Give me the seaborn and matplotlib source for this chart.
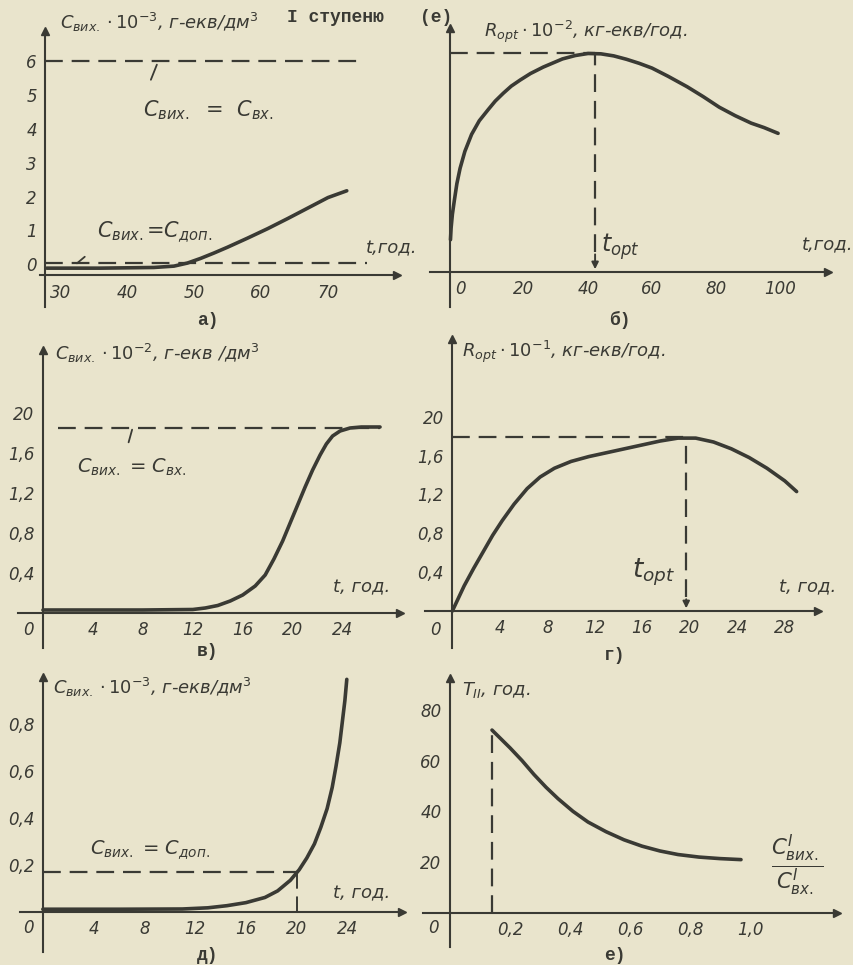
import numpy as np
import matplotlib
matplotlib.use("Agg")
import matplotlib.pyplot as plt
import seaborn as sns

sns.set_theme(style="white")
plt.rcParams["font.family"] = ["DejaVu Sans"]
plt.rcParams["mathtext.fontset"] = "dejavusans"

BG = "#e9e4cc"
INK = "#3a3a34"
W, H = 854, 965
DASH = (0, (8, 4))

# --- a) outlet concentration vs time, stage I
a_t = [28, 36, 44, 47, 49, 51, 53, 55, 58, 61, 64, 67, 70, 72.8]
a_c = [-0.12, -0.12, -0.1, -0.06, 0.03, 0.17, 0.33, 0.5, 0.77, 1.05, 1.35, 1.66, 1.97, 2.17]
a_c_in, a_c_dop = 6.0, 0.03
a_xticks = [30, 40, 50, 60, 70]
a_yticks = [0, 1, 2, 3, 4, 5, 6]

# --- б) R_opt vs time
b_t = [-3.0, -2.8, -2.4, -1.8, -1.0, 0, 1.5, 3.6, 6, 8.8, 11, 13.5, 16, 18.8, 22, 26,
       32, 36, 40, 44, 48, 52, 56, 60, 65, 71, 76, 81, 86, 91, 95, 99.4]
b_r = [0.95, 1.3, 1.7, 2.1, 2.6, 3.05, 3.55, 4.05, 4.45, 4.78, 5.03, 5.26, 5.47, 5.65, 5.84, 6.03,
       6.27, 6.37, 6.43, 6.42, 6.36, 6.26, 6.14, 6.0, 5.76, 5.45, 5.16, 4.85, 4.6, 4.38, 4.25, 4.08]
b_topt, b_rmax = 42.2, 6.45
b_xticks = [0, 20, 40, 60, 80, 100]
b_yticks = [1, 2, 3, 4, 5, 6]

# --- в) outlet concentration vs time
c_t = [0, 4, 8, 12, 13, 14, 15, 16, 17, 17.8, 18.5, 19.2, 19.8, 20.4, 21, 21.6, 22.2,
       22.7, 23.2, 23.8, 24.6, 25.5, 27]
c_c = [0.03, 0.03, 0.03, 0.035, 0.05, 0.075, 0.12, 0.18, 0.27, 0.38, 0.54, 0.72, 0.9, 1.08,
       1.26, 1.43, 1.58, 1.69, 1.77, 1.82, 1.85, 1.86, 1.86]
c_c_in = 1.85
c_xticks = [4, 8, 12, 16, 20, 24]
c_yticks = [0.4, 0.8, 1.2, 1.6, 2.0]
c_ylabels = ["0,4", "0,8", "1,2", "1,6", "20"]

# --- г) R_opt vs time
d_t = [0, 0.5, 1, 1.8, 2.6, 3.4, 4.2, 5.2, 6.3, 7.4, 8.6, 10, 11.5, 13, 14.5, 16, 17.5,
       19, 20.5, 22, 23.5, 25, 26.5, 28, 29]
d_r = [0.0, 0.13, 0.26, 0.44, 0.61, 0.78, 0.93, 1.1, 1.26, 1.38, 1.47, 1.54, 1.59, 1.63,
       1.67, 1.71, 1.75, 1.78, 1.78, 1.74, 1.67, 1.58, 1.47, 1.34, 1.23]
d_topt, d_rmax = 19.7, 1.79
d_xticks = [4, 8, 12, 16, 20, 24, 28]
d_yticks = [0.4, 0.8, 1.2, 1.6, 2.0]
d_ylabels = ["0,4", "0,8", "1,2", "1,6", "20"]

# --- д) outlet concentration vs time
e_t = [0, 6, 11, 13, 14.5, 16, 17.5, 18.5, 19.5, 20.2, 20.8, 21.4, 21.9, 22.4, 22.8,
       23.1, 23.4, 23.6, 23.8, 23.95]
e_c = [0.012, 0.012, 0.013, 0.018, 0.027, 0.04, 0.062, 0.09, 0.135, 0.18, 0.23, 0.29,
       0.36, 0.44, 0.53, 0.62, 0.72, 0.81, 0.9, 0.99]
e_c_dop, e_t_dop = 0.17, 20
e_xticks = [4, 8, 12, 16, 20, 24]
e_yticks = [0.2, 0.4, 0.6, 0.8]
e_ylabels = ["0,2", "0,4", "0,6", "0,8"]

# --- е) T_II vs concentration ratio
f_x = [0.14, 0.17, 0.2, 0.24, 0.28, 0.32, 0.36, 0.41, 0.46, 0.52, 0.58, 0.64, 0.7, 0.76,
       0.83, 0.9, 0.97]
f_T = [72, 68.5, 65, 60, 54.5, 49.5, 45, 40, 35.8, 32, 28.8, 26.3, 24.4, 23, 22, 21.4, 21]
f_xticks = [0.2, 0.4, 0.6, 0.8, 1.0]
f_xlabels = ["0,2", "0,4", "0,6", "0,8", "1,0"]
f_yticks = [20, 40, 60, 80]

fig = plt.figure(figsize=(W / 100, H / 100), dpi=100, facecolor=BG)


def txt(x, y, s, size=13, ha="left", **kw):
    fig.text(x / W, 1 - y / H, s, fontsize=size, ha=ha, va="center",
             color=INK, **kw)


def panel(box, xlim, ylim, x0, y0, xticks, yticks, xlabels=None, ylabels=None):
    l, t, r, b = box
    ax = fig.add_axes([l / W, 1 - b / H, (r - l) / W, (b - t) / H])
    ax.set_facecolor("none")
    ax.set_xlim(xlim)
    ax.set_ylim(ylim)
    for s in ["top", "right"]:
        ax.spines[s].set_visible(False)
    ax.spines["left"].set_position(("data", x0))
    ax.spines["bottom"].set_position(("data", y0))
    for s in ["left", "bottom"]:
        ax.spines[s].set_color(INK)
        ax.spines[s].set_linewidth(1.5)
    ax.set_xticks(xticks)
    ax.set_yticks(yticks)
    ax.set_xticklabels(xlabels if xlabels is not None else [str(v) for v in xticks])
    if ylabels is None:
        ylabels = [str(v) for v in yticks]
    ax.set_yticklabels(ylabels)
    ax.tick_params(direction="inout", length=6, width=1.3, color=INK,
                   labelcolor=INK, labelsize=12, pad=3)
    for lab in ax.get_xticklabels() + ax.get_yticklabels():
        lab.set_fontstyle("italic")
    ax.plot(1, y0, ">", color=INK, ms=6, transform=ax.get_yaxis_transform(), clip_on=False)
    ax.plot(x0, 1, "^", color=INK, ms=6, transform=ax.get_xaxis_transform(), clip_on=False)
    ax.grid(False)
    return ax


def curve(ax, x, y):
    sns.lineplot(x=x, y=y, ax=ax, color=INK, lw=2.6, sort=False,
                 estimator=None, solid_capstyle="round", solid_joinstyle="round")


def topt_arrow(ax, x, y, head):
    ax.vlines(x, head, y, color=INK, lw=1.6, linestyles=DASH)
    ax.annotate("", xy=(x, 0), xytext=(x, head),
                arrowprops=dict(arrowstyle="-|>", color=INK, lw=1.4,
                                mutation_scale=10))


# a)
ax = panel((40, 31, 397, 307), (27.0, 80.3), (-1.27, 6.9), 27.8, -0.33,
           a_xticks, a_yticks)
curve(ax, a_t, a_c)
ax.hlines(a_c_in, 27.8, 74.5, color=INK, lw=1.6, linestyles=DASH)
ax.hlines(a_c_dop, 27.8, 75.8, color=INK, lw=1.6, linestyles=DASH)
ax.annotate("", xy=(44.6, 5.98), xytext=(43.4, 5.38),
            arrowprops=dict(arrowstyle="-", color=INK, lw=1.3))
ax.annotate("", xy=(34.0, 0.27), xytext=(32.2, -0.03),
            arrowprops=dict(arrowstyle="-", color=INK, lw=1.3))
txt(60, 22, r"$C_{вих.}\cdot10^{-3}$, г-екв/дм$^3$", 13, fontstyle="italic")
txt(287, 17, "I ступеню", 13, family="Liberation Mono", weight="bold")
txt(420, 17, "(е)", 13, family="Liberation Mono", weight="bold")
txt(143, 110, r"$C_{вих.}$  =  $C_{вх.}$", 15)
txt(97, 232, r"$C_{вих.}$=$C_{доп.}$", 15)
txt(366, 248, "t,год.", 13, fontstyle="italic")
txt(208, 320, "а)", 13, ha="center", family="Liberation Mono", weight="bold")

# б)
ax = panel((430, 28, 828, 307), (-9.4, 115), (-1.03, 7.18), -3.1, 0,
           b_xticks, b_yticks, ylabels=[""] * len(b_yticks))
ax.set_xticks(np.arange(10, 111, 10), minor=True)
ax.tick_params(which="minor", direction="inout", length=5, width=1.2, color=INK)
curve(ax, b_t, b_r)
ax.hlines(b_rmax, -3.1, b_topt, color=INK, lw=1.6, linestyles=DASH)
topt_arrow(ax, b_topt, b_rmax, 0.6)
txt(484, 32, r"$R_{opt}\cdot10^{-2}$, кг-екв/год.", 13, fontstyle="italic")
txt(601, 247, r"$t_{opt}$", 17)
txt(802, 245, "t,год.", 13, fontstyle="italic")
txt(620, 320, "б)", 13, ha="center", family="Liberation Mono", weight="bold")

# в)
ax = panel((18, 350, 400, 648), (-2, 28.6), (-0.35, 2.63), 0, 0,
           c_xticks, c_yticks, ylabels=c_ylabels)
curve(ax, c_t, c_c)
ax.hlines(c_c_in, 1.2, 27, color=INK, lw=1.6, linestyles=DASH)
ax.annotate("", xy=(7.2, 1.86), xytext=(6.8, 1.68),
            arrowprops=dict(arrowstyle="-", color=INK, lw=1.3))
txt(55, 353, r"$C_{вих.}\cdot10^{-2}$, г-екв /дм$^3$", 13, fontstyle="italic")
txt(77, 467, r"$C_{вих.}$ = $C_{вх.}$", 14)
txt(333, 587, "t, год.", 13, fontstyle="italic")
txt(28, 630, "0", 12, ha="center", fontstyle="italic")
txt(208, 652, "в)", 13, ha="center", family="Liberation Mono", weight="bold")

# г)
ax = panel((425, 339, 818, 648), (-2.3, 30.8), (-0.38, 2.8), 0, 0,
           d_xticks, d_yticks, ylabels=d_ylabels)
curve(ax, d_t, d_r)
ax.hlines(d_rmax, 0, d_topt, color=INK, lw=1.6, linestyles=DASH)
topt_arrow(ax, d_topt, d_rmax, 0.15)
txt(462, 352, r"$R_{opt}\cdot10^{-1}$, кг-екв/год.", 13, fontstyle="italic")
txt(632, 572, r"$t_{opt}$", 19)
txt(779, 587, "t, год.", 13, fontstyle="italic")
txt(435, 630, "0", 12, ha="center", fontstyle="italic")
txt(615, 655, "г)", 13, ha="center", family="Liberation Mono", weight="bold")

# д)
ax = panel((20, 677, 402, 952), (-1.8, 28.3), (-0.17, 1.0), 0, 0,
           e_xticks, e_yticks, ylabels=e_ylabels)
curve(ax, e_t, e_c)
ax.hlines(e_c_dop, 0, e_t_dop, color=INK, lw=1.6, linestyles=DASH)
ax.vlines(e_t_dop, 0, e_c_dop, color=INK, lw=1.4, linestyles=DASH)
txt(53, 687, r"$C_{вих.}\cdot10^{-3}$, г-екв/дм$^3$", 13, fontstyle="italic")
txt(90, 850, r"$C_{вих.}$ = $C_{доп.}$", 14)
txt(333, 893, "t, год.", 13, fontstyle="italic")
txt(28, 928, "0", 12, ha="center", fontstyle="italic")
txt(208, 955, "д)", 13, ha="center", family="Liberation Mono", weight="bold")

# е)
ax = panel((423, 678, 837, 947), (-0.09, 1.29), (-13.4, 92.5), 0, 0,
           f_xticks, f_yticks, xlabels=f_xlabels)
curve(ax, f_x, f_T)
ax.vlines(f_x[0], 0, f_T[0], color=INK, lw=1.6, linestyles=DASH)
txt(462, 690, r"$T_{II}$, год.", 13, fontstyle="italic")
txt(797, 866, r"$\frac{C^{I}_{вих.}}{C^{I}_{вх.}}$", 22, ha="center")
txt(433, 928, "0", 12, ha="center", fontstyle="italic")
txt(615, 955, "е)", 13, ha="center", family="Liberation Mono", weight="bold")

fig.savefig("out.png", dpi=100, facecolor=BG)
